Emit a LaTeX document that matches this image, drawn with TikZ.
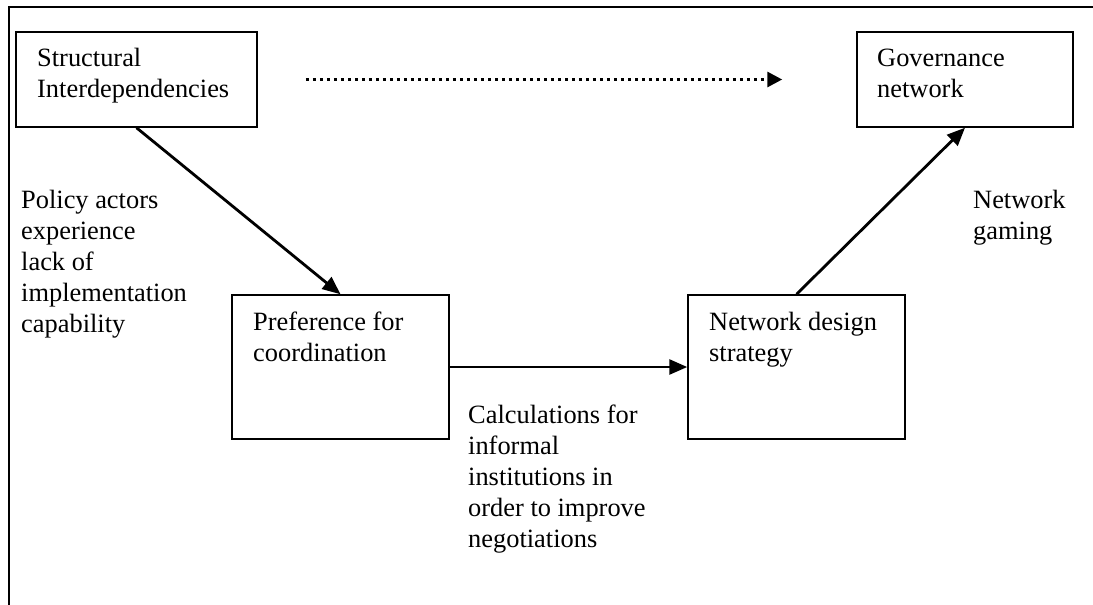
\documentclass[tikz,border=0pt]{standalone}
\usepackage{fontspec}
\setmainfont{Liberation Serif}
\usetikzlibrary{arrows.meta}
\begin{document}
\begin{tikzpicture}[x=1pt,y=-1pt,
  box/.style={draw, line width=1.5pt, rectangle, inner sep=0pt},
  % text blocks are placed by the baseline of their last line
  txt/.style={anchor=base west, inner sep=0pt, align=left, font=\fontsize{26.4}{31}\selectfont},
  flow/.style={line width=2.8pt, -{Triangle[length=18pt,width=15pt]}},
  dotflow/.style={line width=3pt, dash pattern=on 3pt off 4pt, -{Triangle[length=15pt,width=15pt]}},
  ]
\useasboundingbox (0,0) rectangle (1093,605);
% outer frame
\draw[line width=1.6pt] (9,605) -- (9,7) -- (1093,7);

% boxes
\node[box, minimum width=241pt, minimum height=95pt] (struct) at (136.5,79.5) {};
\node[box, minimum width=216pt, minimum height=95pt] (gov) at (965,79.5) {};
\node[box, minimum width=217pt, minimum height=144pt] (pref) at (340.5,367) {};
\node[box, minimum width=217pt, minimum height=144pt] (design) at (796.5,367) {};

% box texts
\node[txt] (structtxt) at (37,97) {Structural\\Interdependencies};
\node[txt] (govtxt) at (877,97) {Governance\\network};
\node[txt] (preftxt) at (253,361) {Preference for\\coordination};
\node[txt] (designtxt) at (709,361) {Network design\\strategy};

% connector labels
\node[txt] (lackcap) at (21,332) {Policy actors\\experience\\lack of\\implementation\\capability};
\node[txt] (gaming) at (973,239) {Network\\gaming};
\node[txt] (calc) at (468,547) {Calculations for\\informal\\institutions in\\order to improve\\negotiations};

% connectors
\draw[flow] (struct.south) -- (pref.north);
\draw[flow] (pref.east) -- (design.west);
\draw[flow] (design.north) -- (gov.south);
\coordinate (dotstart) at ([xshift=48pt]struct.east);
\coordinate (dotend) at ([xshift=-74pt]gov.west);
\draw[dotflow] (dotstart) -- (dotend);
\end{tikzpicture}
\end{document}
